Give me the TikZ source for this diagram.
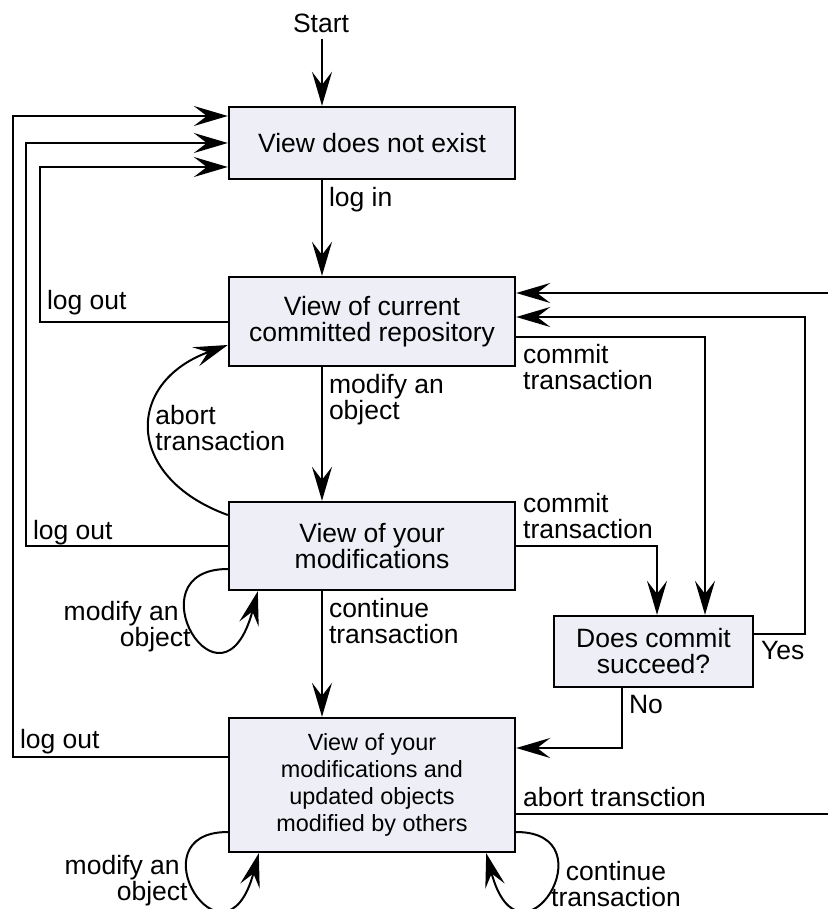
\documentclass[tikz,border=0pt]{standalone}
\usepackage{fontspec}
\setmainfont{Liberation Sans}
\usepackage{tikz}
\usetikzlibrary{arrows.meta, positioning}
\definecolor{statefill}{RGB}{238,239,246}

\begin{document}
\begin{tikzpicture}[x=0.5pt, y=0.5pt,
    every node/.style={font=\fontsize{13.25}{13}\selectfont, inner sep=3pt},
    state/.style={draw, line width=1.2pt, fill=statefill, minimum width=143pt, inner sep=0pt, align=center},
    link/.style={line width=1pt, -{Stealth[length=17pt, width=10pt, inset=6.5pt]}}]
    \useasboundingbox (0,0) rectangle (828,-909);

    % Rails
    \coordinate (spine) at (322,0);
    \coordinate (railA) at (13,0);
    \coordinate (railB) at (26,0);
    \coordinate (railC) at (40,0);
    \coordinate (railY) at (805,0);
    \coordinate (railE) at (834,0);

    % States
    \node (start) at (321,-23) {Start};
    \node[state, minimum height=36pt] (vnone) at (372,-143) {View does not exist};
    \node[state, minimum height=44.5pt] (vrepo) at (372,-321.5) {View of current\\committed repository};
    \node[state, minimum height=44pt] (vmods) at (372,-546) {View of your\\modifications};
    \node[state, minimum height=67pt, font=\fontsize{11.7}{13.5}\selectfont] (vmerged) at (372,-785)
        {View of your\\modifications and\\updated objects\\modified by others};
    \node[state, minimum width=99.5pt, minimum height=35.5pt] (dcommit) at (653.5,-651.5) {Does commit\\succeed?};

    % Main line
    \draw[link] (spine |- start.south) -- (spine |- vnone.north);
    \draw[link] (spine |- vnone.south) node[below right] {log in} -- (spine |- vrepo.north);
    \draw[link] (spine |- vrepo.south) node[below right, align=left] {modify an\\object} -- (spine |- vmods.north);
    \draw[link] (spine |- vmods.south) node[below right, align=left] {continue\\transaction} -- (spine |- vmerged.north);

    % Log out
    \draw[link] (vrepo.west) -- (vrepo.west -| railC) node[above right] {log out} |- ([yshift=-12pt]vnone.west);
    \draw[link] (vmods.west) -- (vmods.west -| railB) node[above right, yshift=-3pt] {log out} |- (vnone.west);
    \draw[link] ([yshift=14pt]vmerged.west) -- ([yshift=14pt]vmerged.west -| railA) node[above right, yshift=-2pt] {log out}
        |- ([yshift=13.5pt]vnone.west);

    % Commit
    \draw[link] ([yshift=-7.75pt]vrepo.east) node[below right, align=left] {commit\\transaction}
        -| ([xshift=25.75pt]dcommit.north);
    \draw[link] (vmods.east) node[above right, align=left] {commit\\transaction} -| ([xshift=1.75pt]dcommit.north);

    \coordinate (yesA) at ([yshift=8.75pt]dcommit.east);
    \coordinate (yesB) at ([yshift=2.25pt]vrepo.east);
    \draw[link] (yesA) node[below right] {Yes} -- (yesA -| railY) |- (yesB);
    \draw[link] ([xshift=-15.75pt]dcommit.south) node[below right] {No} |- ([yshift=18.5pt]vmerged.east);

    % Abort
    \coordinate (abortA) at ([yshift=-14.5pt]vmerged.east);
    \coordinate (abortB) at ([yshift=14.25pt]vrepo.east);
    \draw[link] (abortA) node[above right] {abort transction} -- (abortA -| railE) |- (abortB);
    \draw[link] ([yshift=15.5pt]vmods.west) .. controls +(160:110) and +(200:110) .. ([yshift=-11.75pt]vrepo.west);
    \node[anchor=west, align=left] (abortlbl) at (149,-428) {abort\\transaction};

    % Self loops
    \draw[link] ([yshift=-11.5pt]vmods.west) .. controls +(180:98) and +(255:140) .. ([xshift=15pt]vmods.south west);
    \node[anchor=east, align=right] (modlbl) at (185,-627) {modify an\\object\kern-6pt};
    \draw[link] ([yshift=-23.5pt]vmerged.west) .. controls +(180:95) and +(255:132) .. ([xshift=15.5pt]vmerged.south west);
    \node[anchor=east, align=right, inner sep=0pt] (modlblb) at (180,-881) {modify an\\object\kern-4pt};
    \draw[link] ([yshift=-23.5pt]vmerged.east) .. controls +(0:95) and +(285:132) .. ([xshift=-15pt]vmerged.south east);
    \node[align=center, inner sep=0pt] (contlbl) at (616,-884) {continue\\transaction};
\end{tikzpicture}
\end{document}
